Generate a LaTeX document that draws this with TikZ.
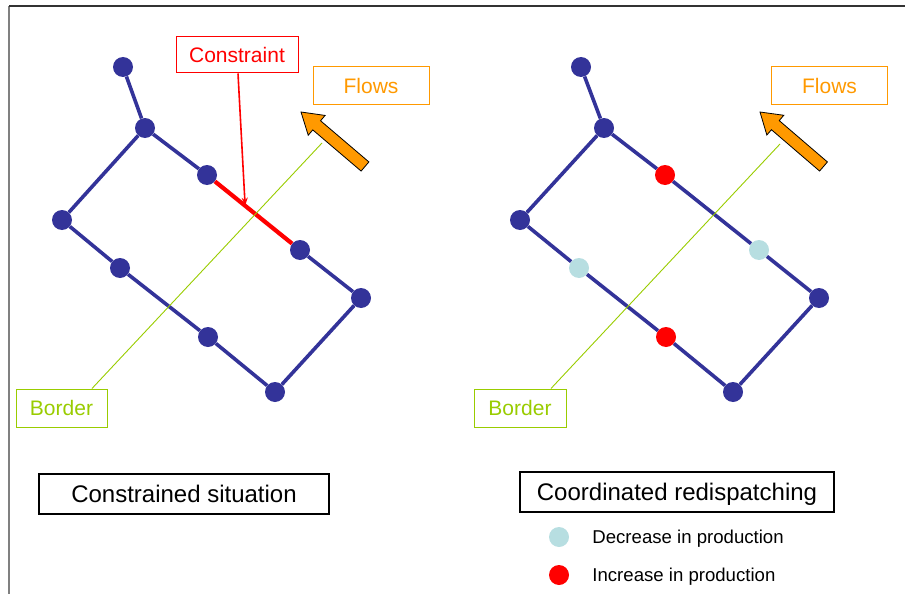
\documentclass[tikz,border=0pt]{standalone}
\usepackage{fontspec}
\setmainfont{Liberation Sans}
\usetikzlibrary{positioning,calc,arrows.meta}
\definecolor{navy}{RGB}{51,51,153}
\definecolor{paleblue}{RGB}{183,222,225}
\definecolor{bordergreen}{RGB}{153,204,0}
\definecolor{floworange}{RGB}{255,153,0}
\tikzset{
    bus/.style={circle,fill=navy,minimum size=20pt,inner sep=0pt},
    incbus/.style={bus,fill=red},
    decbus/.style={bus,fill=paleblue},
    grid/.style={draw=navy,line width=3.6pt},
    tagbox/.style={draw,line width=1pt,inner sep=0pt,text height=15pt,text depth=0pt,font=\fontsize{21}{25}\selectfont},
    titlebox/.style={draw=black,line width=1.2pt,inner sep=0pt,minimum height=40pt,text height=17.2pt,text depth=0pt,font=\fontsize{24}{28}\selectfont},
    legendtext/.style={inner sep=0pt,text height=13.3pt,text depth=0pt,font=\fontsize{18.6}{22}\selectfont},
    borderline/.style={draw=bordergreen,line width=0.9pt},
    flowarrow/.style={fill=floworange,draw=black,line width=0.8pt,line join=miter}
}
\begin{document}
\begin{tikzpicture}[x=1pt,y=-1pt]
    \useasboundingbox (0,0) rectangle (905,594);
    \draw[gray,line width=1.6pt] (9,594) -- (9,6);
    \draw[black!80,line width=1.4pt] (9,6) -- (905,6);

    \begin{scope}
        \node [bus] (l1) at (123,67) {};
        \node [bus] (l2) at (145,128) {};
        \node [bus] (l3) at (207,175) {};
        \node [bus] (l4) at (62,220) {};
        \node [bus] (l5) at (120,268) {};
        \node [bus] (l6) at (300,250) {};
        \node [bus] (l7) at (361,298) {};
        \node [bus] (l8) at (208,337) {};
        \node [bus] (l9) at (275,392) {};
        \draw [grid] (l1) -- (l2) -- (l3);
        \draw [grid] (l2) -- (l4) -- (l5) -- (l8) -- (l9) -- (l7) -- (l6);
        \draw [grid,draw=red,line width=4.2pt] (l3) -- (l6);

        \node [tagbox,red,minimum width=122pt,minimum height=36pt] (cons) at (237,55) {Constraint};
        \coordinate (hit0) at ($(l3)!0.41!(l6)$);
        \draw [red,line width=1.6pt,-{Stealth[length=8pt,width=6pt]}] (cons) -- (hit0);

        \node [tagbox,floworange,minimum width=116pt,minimum height=37pt] (flows0) at (371,85.5) {Flows};
        \coordinate (fh0) at (301,112);
        \coordinate (ft0) at (365,166.5);
        \coordinate (fn0) at ($(ft0)!63.5pt!(fh0)$);
        \draw [flowarrow] ($(ft0)!6pt!90:(fh0)$) -- ($(fn0)!6pt!90:(fh0)$) -- ($(fn0)!13pt!90:(fh0)$)
            -- (fh0) -- ($(fn0)!13pt!-90:(fh0)$) -- ($(fn0)!6pt!-90:(fh0)$) -- ($(ft0)!6pt!-90:(fh0)$) -- cycle;

        \node [tagbox,bordergreen,minimum width=91pt,minimum height=38pt] (bord0) at (61.5,408) {Border};
        \coordinate (btop0) at (322,143);
        \draw [borderline] ([xshift=30.5pt]bord0.north) -- (btop0);

        \node [titlebox,minimum width=290pt] (sit0) at (184,494) {Constrained situation};
    \end{scope}

    \begin{scope}
        \node [bus] (r1) at (581,67) {};
        \node [bus] (r2) at (604,128) {};
        \node [incbus] (r3) at (665,175) {};
        \node [bus] (r4) at (520,220) {};
        \node [decbus] (r5) at (579,268) {};
        \node [decbus] (r6) at (759,250) {};
        \node [bus] (r7) at (819,298) {};
        \node [incbus] (r8) at (666,337) {};
        \node [bus] (r9) at (733,392) {};
        \draw [grid] (r1) -- (r2) -- (r3) -- (r6) -- (r7);
        \draw [grid] (r2) -- (r4) -- (r5) -- (r8) -- (r9) -- (r7);

        \node [tagbox,floworange,minimum width=116pt,minimum height=37pt] (flows1) at (829.5,85.5) {Flows};
        \coordinate (fh1) at (760,112);
        \coordinate (ft1) at (823.5,166.5);
        \coordinate (fn1) at ($(ft1)!63.5pt!(fh1)$);
        \draw [flowarrow] ($(ft1)!6pt!90:(fh1)$) -- ($(fn1)!6pt!90:(fh1)$) -- ($(fn1)!13pt!90:(fh1)$)
            -- (fh1) -- ($(fn1)!13pt!-90:(fh1)$) -- ($(fn1)!6pt!-90:(fh1)$) -- ($(ft1)!6pt!-90:(fh1)$) -- cycle;

        \node [tagbox,bordergreen,minimum width=92pt,minimum height=38pt] (bord1) at (520,408) {Border};
        \coordinate (btop1) at (780,144);
        \draw [borderline] ([xshift=31pt]bord1.north) -- (btop1);

        \node [titlebox,minimum width=314pt] (sit1) at (677,492) {Coordinated redispatching};

        \node [decbus] (dec) at (559,537) {};
        \node [legendtext,right=23pt of dec] (dectext) {Decrease in production};
        \node [incbus] (inc) at (559,575) {};
        \node [legendtext,right=23pt of inc] (inctext) {Increase in production};
    \end{scope}
\end{tikzpicture}
\end{document}
